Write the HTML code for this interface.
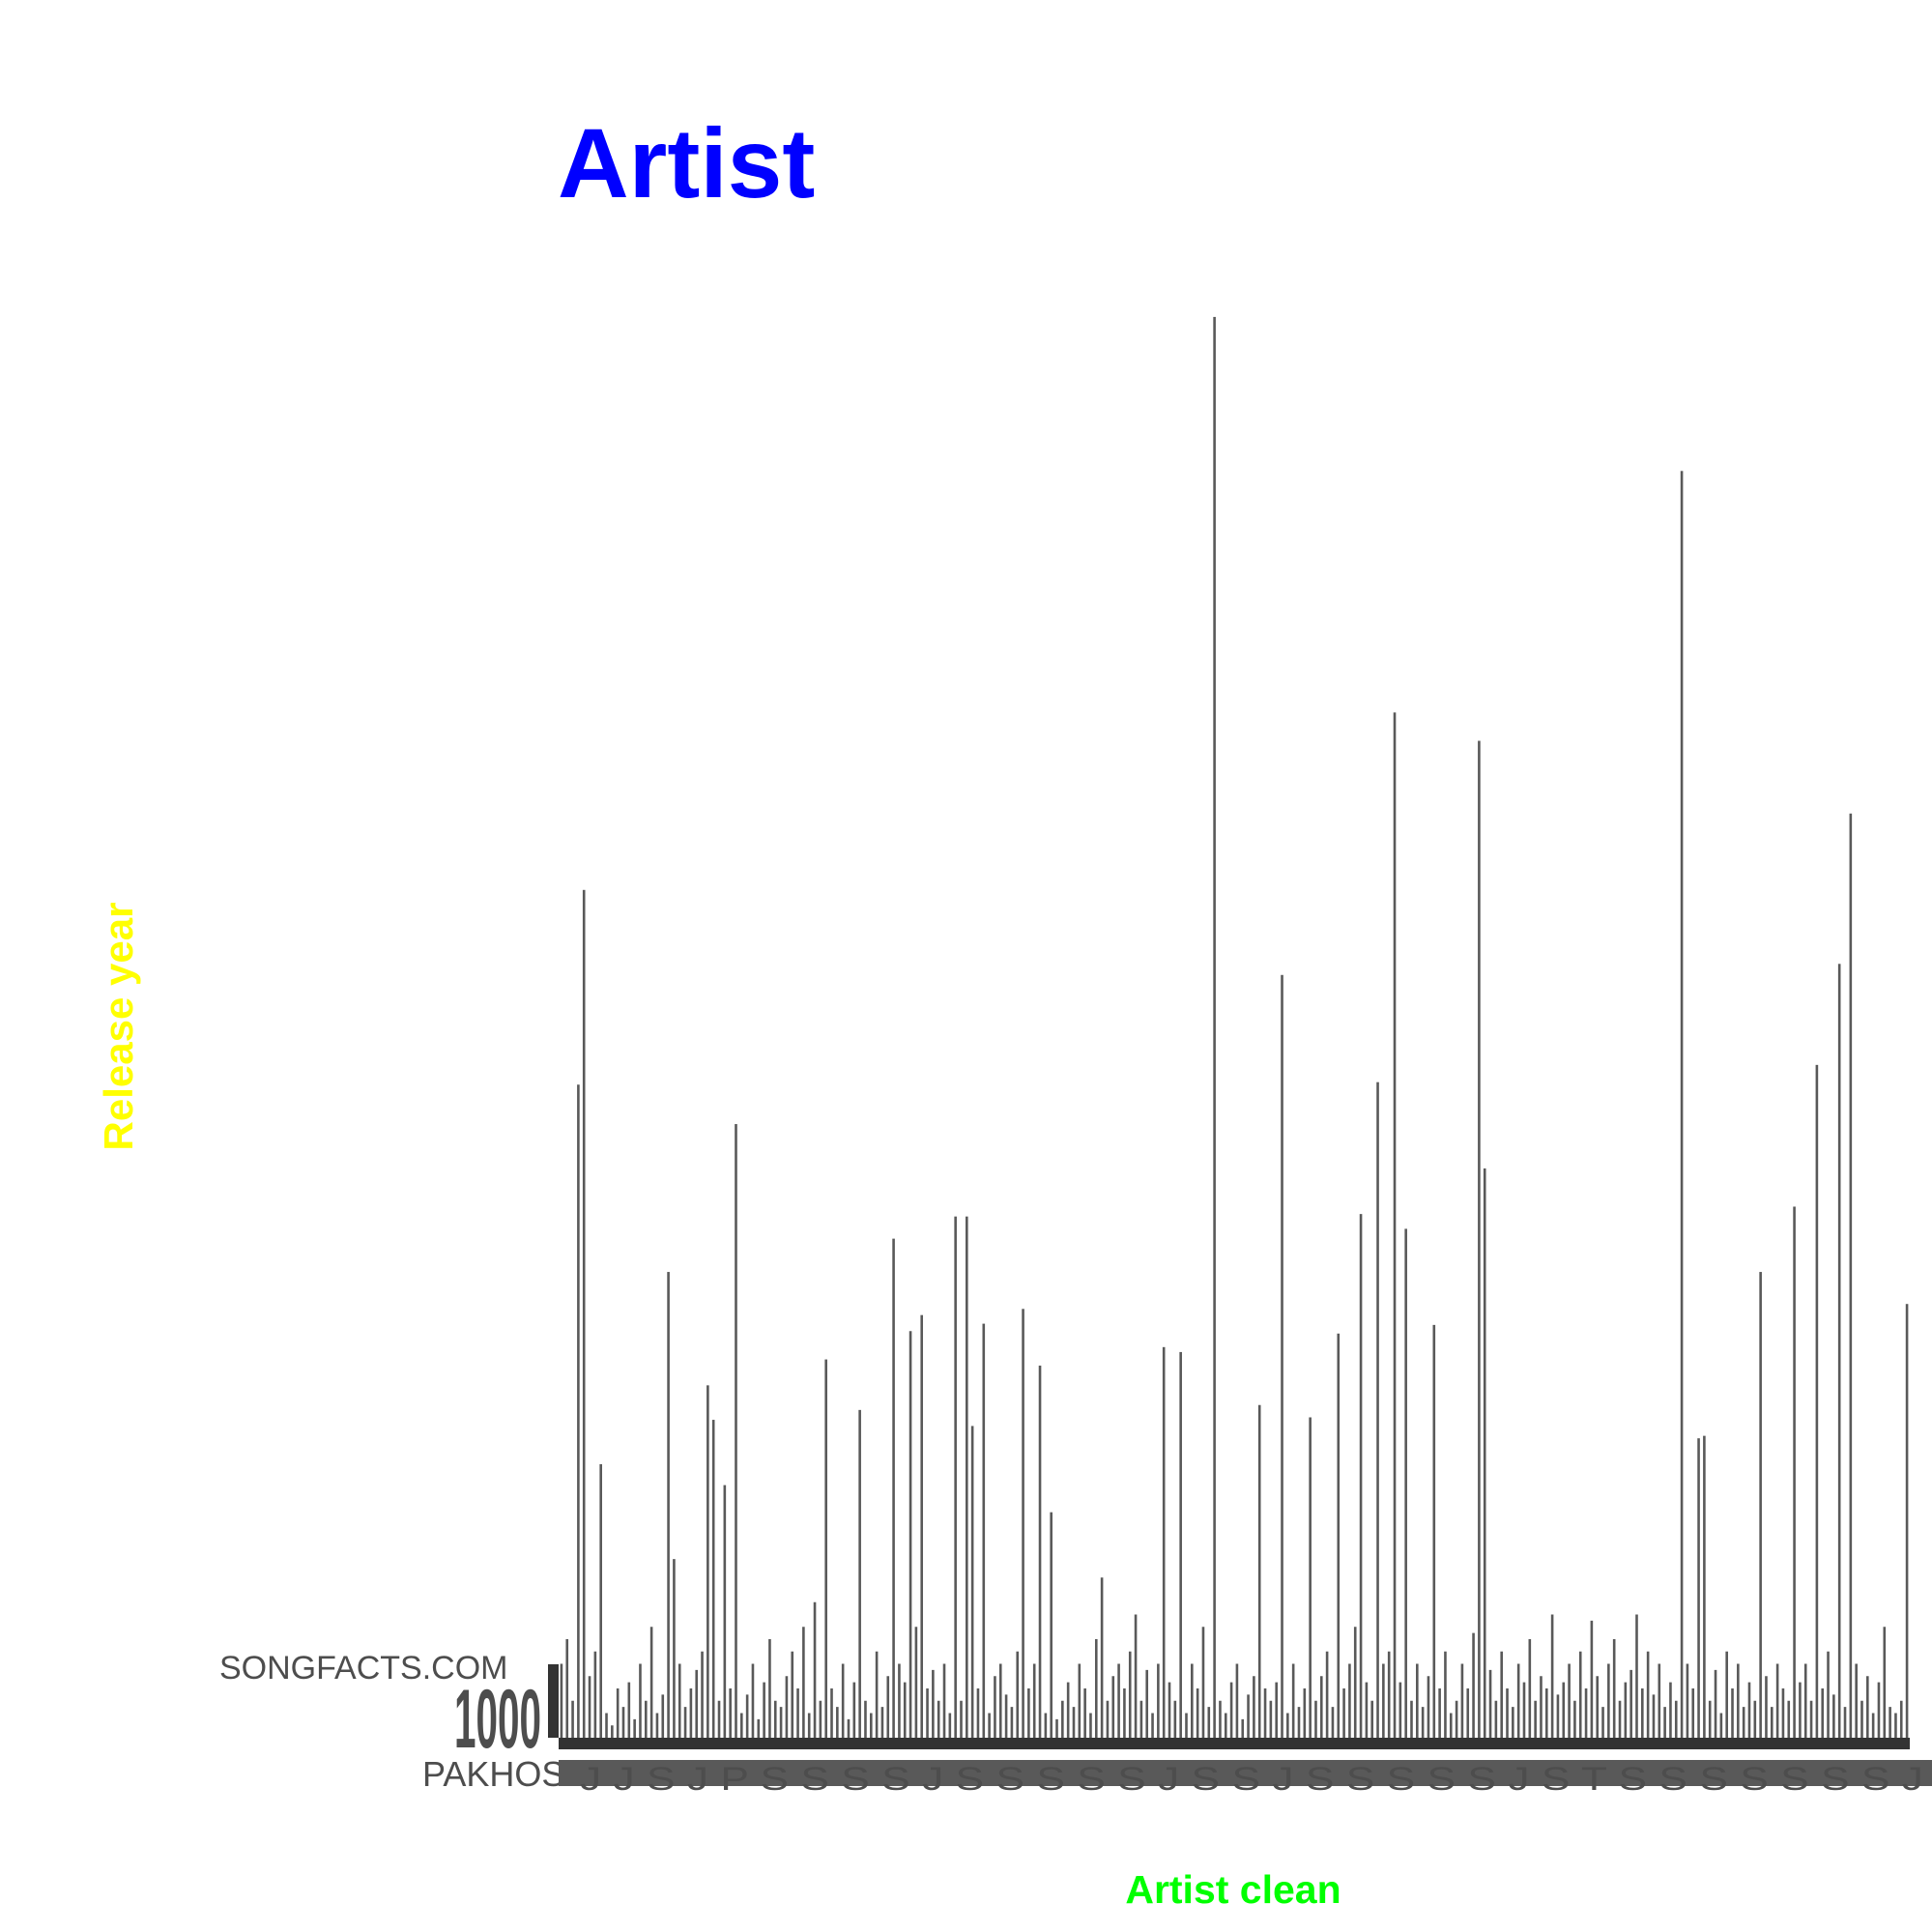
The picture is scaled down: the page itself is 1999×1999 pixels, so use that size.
<!DOCTYPE html>
<html><head><meta charset="utf-8"><style>
body{margin:0;background:#fff;}
svg{display:block;font-family:"Liberation Sans",sans-serif;}
</style></head><body>
<svg id="chart" width="1999" height="1999" viewBox="0 0 1999 1999">
<text x="577" y="204" font-size="102" font-weight="bold" fill="#0000ff">Artist</text>
<text transform="translate(137,1062) rotate(-90)" text-anchor="middle" font-size="42" font-weight="bold" fill="#ffff00">Release year</text>
<text x="1276" y="1969" text-anchor="middle" font-size="41" font-weight="bold" fill="#00ff00">Artist clean</text>
<text x="227" y="1737" font-size="34" fill="#4d4d4d">SONGFACTS.COM</text>
<text x="470" y="1808" font-size="86" font-weight="bold" fill="#4d4d4d" textLength="90" lengthAdjust="spacingAndGlyphs">1000</text>
<rect x="567" y="1722" width="11" height="76" fill="#333"/>
<g id="bars"></g>
<rect x="578" y="1798" width="1398" height="12" fill="#333"/>
<text x="437" y="1848" font-size="36" fill="#4d4d4d">PAKHOS</text>
<rect x="578" y="1821" width="1421" height="27" fill="#595959"/>
<text x="600" y="1852" font-size="34" fill="#4d4d4d" textLength="1390" lengthAdjust="spacingAndGlyphs">J J S J P S S S S J S S S S S J S S J S S S S S J S T S S S S S S S J</text>
</svg>
<script>
const values = [60,80,30,530,688,50,70,222,20,10,40,25,45,15,60,30,90,20,35,378,
145,60,25,40,55,70,286,258,30,205,40,498,20,35,60,15,45,80,30,25,
50,70,40,90,20,110,30,307,40,25,60,15,45,266,30,20,70,25,50,405,
60,45,330,90,343,40,55,30,60,20,423,30,423,253,40,336,20,50,60,35,
25,70,348,40,60,302,20,183,15,30,45,25,60,40,20,80,130,30,50,60,
40,70,100,30,55,20,60,317,45,30,313,20,60,40,90,25,1153,30,20,45,
60,15,35,50,270,40,30,45,619,20,60,25,40,260,30,50,70,25,328,40,
60,90,425,45,30,532,60,70,832,45,413,30,60,25,50,335,40,70,20,30,
60,40,85,809,462,55,30,70,40,25,60,45,80,30,50,40,100,35,45,60,
30,70,40,95,50,25,60,80,30,45,55,100,40,70,35,60,25,45,30,1028,
60,40,243,245,30,55,20,70,40,60,25,45,30,378,50,25,60,40,30,431,
45,60,30,546,40,70,35,628,25,750,60,30,50,20,45,90,25,20,30,352];
const categories = values.map((v,i)=>'artist-'+i);
const x0=578, x1=1976, base=1798, k=1.275;
const band=(x1-x0)/categories.length;
function xs(i){return x0+i*band+band/2;}
function ys(v){return base-v*k;}
const g=document.getElementById('bars');
const NS='http://www.w3.org/2000/svg';
values.forEach((v,i)=>{
  const r=document.createElementNS(NS,'rect');
  
  
  r.setAttribute('x',xs(i)-1.3);
  r.setAttribute('y',ys(v));
  r.setAttribute('width',2.6);
  r.setAttribute('height',base-ys(v));
  r.setAttribute('fill','#595959');
  g.appendChild(r);
});
</script>
</body></html>
